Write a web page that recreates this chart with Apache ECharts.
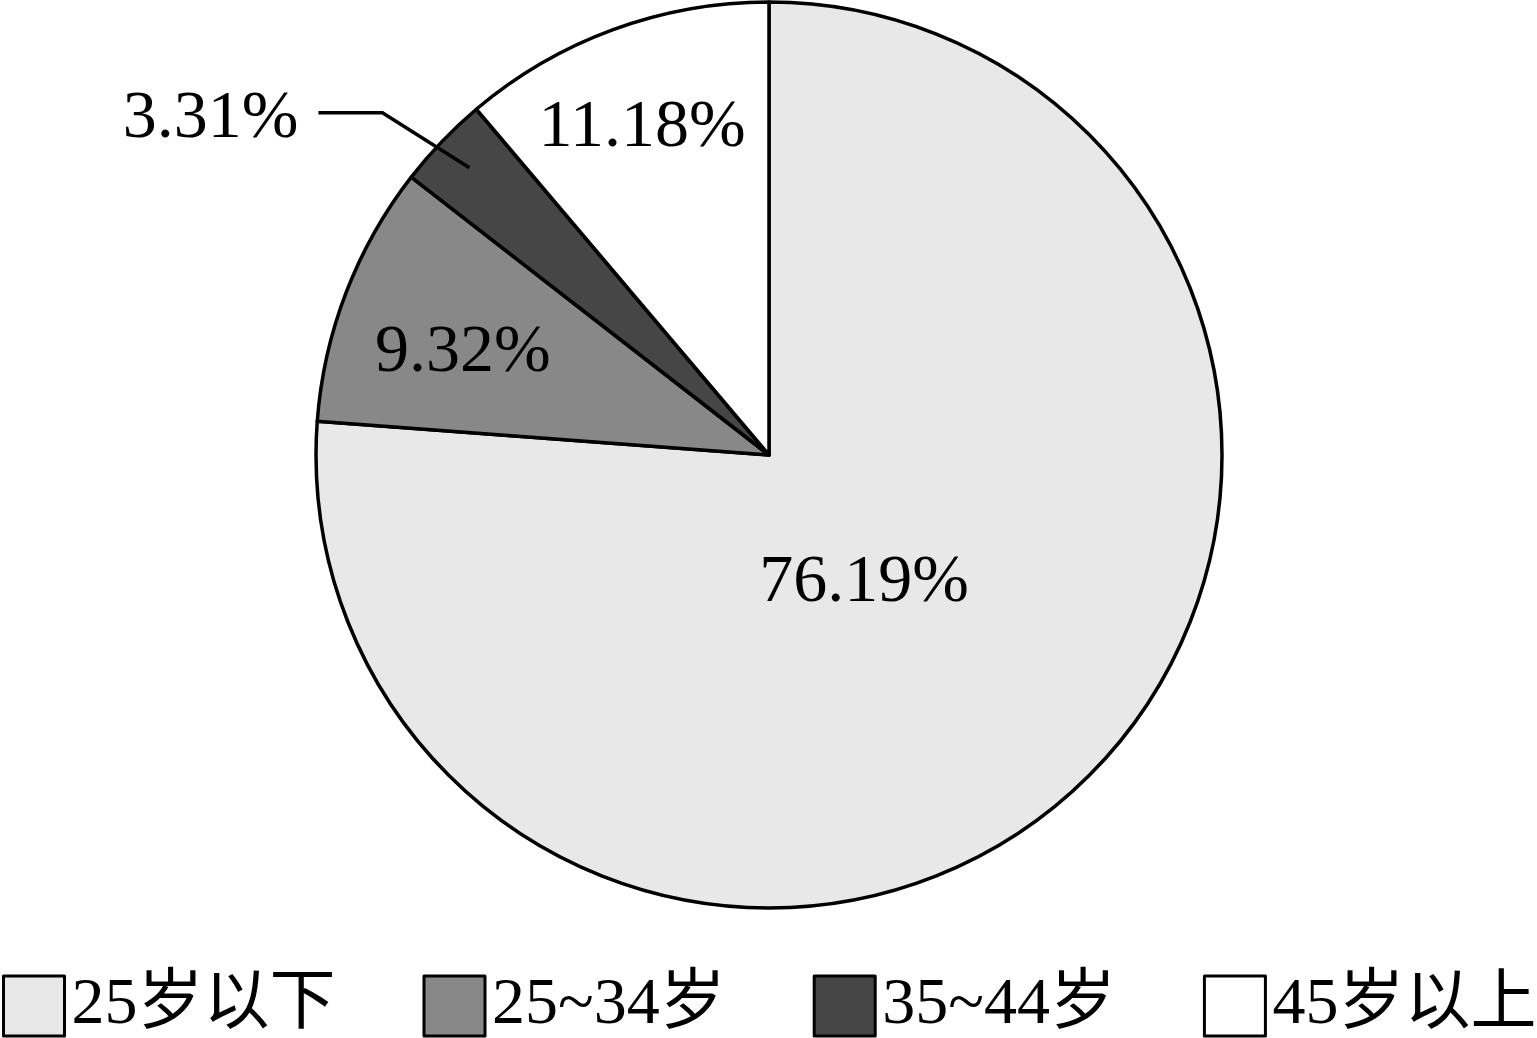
<!DOCTYPE html>
<html><head><meta charset="utf-8">
<script src="https://cdn.jsdelivr.net/npm/echarts@6/dist/echarts.min.js"></script>
<style>html,body{margin:0;padding:0;background:#fff}#c{width:1537px;height:1038px}</style>
</head><body><div id="c"></div>
<script>
const categories = ['25岁以下', '25~34岁', '35~44岁', '45岁以上'];
const values = [76.19, 9.32, 3.31, 11.18];
const colors = ['#e8e8e8', '#888888', '#464646', '#ffffff'];

const FONT = '"Liberation Serif", "Noto Sans CJK SC", serif';
const CX = 769, CY = 455, R = 453;
// label shifts relative to library default inside placement
const shifts = [[-61, -40], [-92, -19], null, [-48, -111]];

const fmt = p => p.value.toFixed(2) + '%';

const chart = echarts.init(document.getElementById('c'));
chart.setOption({
  backgroundColor: '#fff',
  animation: false,
  legend: {
    left: 2, top: 973, width: 1535, padding: 0,
    itemWidth: 61, itemHeight: 60, itemGap: 87,
    icon: 'rect',
    itemStyle: { borderColor: '#000', borderWidth: 3 },
    textStyle: { fontFamily: FONT, fontSize: 66, color: '#000', padding: [0, 0, 0, 2] },
    data: categories.map((c, i) => ({ name: c, itemStyle: { color: colors[i], borderColor: '#000', borderWidth: 3 } }))
  },
  series: [{
    type: 'pie',
    z: 2,
    center: [CX, CY],
    radius: R,
    startAngle: 90,
    clockwise: true,
    itemStyle: { borderColor: '#000', borderWidth: 3.5 },
    label: {
      show: true, position: 'inside',
      fontFamily: FONT, fontSize: 68, color: '#000',
      formatter: fmt
    },
    labelLine: { show: false },
    labelLayout: function (params) {
      const s = shifts[params.dataIndex];
      return s ? { dx: s[0], dy: s[1] } : {};
    },
    data: categories.map((c, i) => {
      const d = { name: c, value: values[i], itemStyle: { color: colors[i] } };
      if (i === 2) d.label = { show: false };
      return d;
    })
  }, {
    // overlay carrying the outside label with leader line drawn on top of the slices
    type: 'pie',
    z: 5,
    silent: true,
    center: [CX, CY],
    radius: R,
    startAngle: 90,
    clockwise: true,
    itemStyle: { color: 'rgba(0,0,0,0)', borderWidth: 0 },
    label: { show: false, fontFamily: FONT, fontSize: 68, color: '#000', formatter: fmt },
    labelLine: { show: false },
    labelLayout: function (params) {
      if (params.dataIndex !== 2 || !params.labelLinePoints) return {};
      const e = params.labelLinePoints[0];
      const k = 415 / R;
      const p0 = [CX + (e[0] - CX) * k, CY + (e[1] - CY) * k];
      const p1 = [p0[0] - 87, p0[1] - 55];
      const p2 = [p1[0] - 64, p1[1]];
      return { labelLinePoints: [p0, p1, p2], x: p2[0] - 20, y: p2[1] + 6, align: 'right', verticalAlign: 'middle' };
    },
    data: categories.map((c, i) => {
      const d = { name: c, value: values[i] };
      if (i === 2) {
        d.label = { show: true, position: 'outside' };
        d.labelLine = { show: true, length: 10, length2: 10, lineStyle: { color: '#000', width: 3.5 } };
      }
      return d;
    })
  }]
});
</script></body></html>
